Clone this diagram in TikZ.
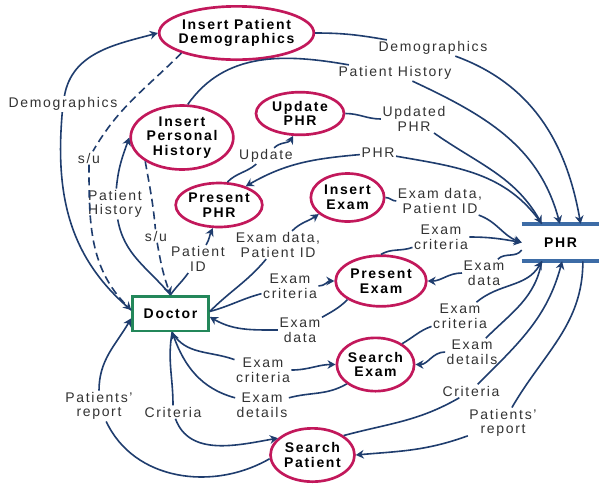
\documentclass[tikz,border=0pt]{standalone}
\usepackage{fontspec}
\setmainfont{Liberation Sans}[LetterSpace=12]
\usetikzlibrary{shapes.geometric,arrows.meta}
\definecolor{rose}{HTML}{C2185B}
\definecolor{fleche}{HTML}{1F3D6E}
\definecolor{vert}{HTML}{23875A}
\definecolor{bande}{HTML}{3D6CA6}
\definecolor{texte}{HTML}{333333}

\begin{document}
\begin{tikzpicture}[x=0.75pt,y=0.75pt,font=\fontsize{10.5}{11}\selectfont]
\tikzstyle{flux}=[->,>={Stealth[length=6pt,width=6.5pt]},line width=1.2pt,draw=fleche]
\tikzset{processus/.style={ellipse,draw=rose,line width=2pt,inner sep=-12pt,align=center,font=\fontsize{10.5}{11}\selectfont\bfseries},
etiquette/.style={fill=white,inner sep=1pt,align=center,text=texte}}
\path[use as bounding box,fill=white] (0,0) rectangle (599,-483);

% processus
\node[processus,minimum width=116pt,minimum height=40pt] (ipd) at (236.5,-33) {Insert Patient\\Demographics};
\node[processus,minimum width=77pt,minimum height=48pt] (iph) at (182,-137.5) {Insert\\Personal\\History};
\node[processus,minimum width=66pt,minimum height=32pt] (uphr) at (300,-113.5) {Update\\PHR};
\node[processus,minimum width=65pt,minimum height=33pt] (pphr) at (219,-205) {Present\\PHR};
\node[processus,minimum width=55pt,minimum height=36pt] (iex) at (347.5,-197.5) {Insert\\Exam};
\node[processus,minimum width=68pt,minimum height=38pt] (pex) at (381,-281) {Present\\Exam};
\node[processus,minimum width=58pt,minimum height=40pt] (sex) at (375.5,-364.5) {Search\\Exam};
\node[processus,minimum width=63pt,minimum height=40pt] (spat) at (312.5,-455) {Search\\Patient};
\node[draw=vert,line width=2pt,minimum width=57pt,minimum height=26pt,font=\fontsize{10.5}{11}\selectfont\bfseries] (doc) at (170.5,-313.5) {Doctor};
\node[minimum width=57.75pt,minimum height=27.75pt,inner sep=0pt,font=\fontsize{10.5}{11}\selectfont\bfseries] (phr) at (560.5,-242.5) {PHR};
\draw[bande,line width=3pt] (phr.north west) -- (phr.north east);
\draw[bande,line width=3pt] (phr.south west) -- (phr.south east);

% etiquettes
\node[etiquette] (lblDemoL) at (63,-104) {Demographics};
\node[etiquette] (lblDemoR) at (433,-48) {Demographics};
\node[etiquette] (lblSuA) at (89,-158) {s/u};
\node[etiquette] (lblSuB) at (156,-236) {s/u};
\node[etiquette] (lblHistL) at (115,-204) {Patient\\History};
\node[etiquette] (lblHistR) at (395,-73) {Patient History};
\node[etiquette] (lblPid) at (198,-259) {Patient\\ID};
\node[etiquette] (lblUpd) at (266,-156) {Update};
\node[etiquette] (lblUpdPhr) at (414,-119) {Updated\\PHR};
\node[etiquette] (lblPhr) at (378,-153) {PHR};
\node[etiquette] (lblSaisieA) at (278,-245) {Exam data,\\Patient ID};
\node[etiquette] (lblSaisieB) at (440,-201) {Exam data,\\Patient ID};
\node[etiquette] (lblCritA) at (290,-286) {Exam\\criteria};
\node[etiquette] (lblCritB) at (441,-237) {Exam\\criteria};
\node[etiquette] (lblDataA) at (484,-273) {Exam\\data};
\node[etiquette] (lblDataB) at (300,-330) {Exam\\data};
\node[etiquette] (lblCritC) at (263,-370) {Exam\\criteria};
\node[etiquette] (lblCritD) at (460,-316) {Exam\\criteria};
\node[etiquette] (lblDetA) at (472,-352) {Exam\\details};
\node[etiquette] (lblDetB) at (262,-405) {Exam\\details};
\node[etiquette] (lblCritE) at (173,-412) {Criteria};
\node[etiquette] (lblCritF) at (471,-391) {Criteria};
\node[etiquette] (lblRepA) at (503,-423) {Patients'\\report};
\node[etiquette] (lblRepB) at (99,-406) {Patients'\\report};

% demographics
\draw[flux] (doc.175) to[out=140,in=-95] (lblDemoL) to[out=80,in=195] (ipd.west);
\draw[flux] (ipd.east) to[out=0,in=170] (lblDemoR) to[out=-20,in=100] (phr.43);
\draw[flux,dash pattern=on 6pt off 3.5pt] (ipd.200) to[out=225,in=60] (lblSuA) to[out=-90,in=135] (doc.175);
% history
\draw[flux] (doc.90) to[out=130,in=-80] (lblHistL) to[out=85,in=-110] (iph.west);
\draw[flux] (iph.80) to[out=55,in=170] (lblHistR) to[out=-25,in=105] (phr.92);
\draw[flux,dash pattern=on 6pt off 3.5pt] (iph.213) to[out=-80,in=95] (lblSuB) to[out=-80,in=110] (doc.90);
% PHR
\draw[flux] (doc.90) to[out=55,in=-125] (lblPid) to[out=60,in=-115] (pphr.255);
\draw[flux] (pphr.70) to[out=45,in=-140] (lblUpd) to[out=45,in=-120] (uphr.253);
\draw[flux] (uphr.east) to[out=0,in=180] (lblUpdPhr) to[out=-35,in=120] (phr.135);
\draw[flux] (phr.135) to[out=125,in=-10] (lblPhr) to[out=185,in=30] (pphr.35);
% exams
\draw[flux] (doc.3) to[out=45,in=-130] (lblSaisieA) to[out=45,in=-145] (iex.210);
\draw[flux] (iex.east) to[out=0,in=180] (lblSaisieB) to[out=-20,in=160] (phr.west);
\draw[flux] (doc.3) to[out=15,in=195] (lblCritA) to[out=0,in=180] (pex.west);
\draw[flux] (pex.north) to[out=30,in=200] (lblCritB) to[out=0,in=170] (phr.west);
\draw[flux] (phr.191) to[out=235,in=45] (lblDataA) to[out=180,in=0] (pex.east);
\draw[flux] (pex.209) to[out=225,in=30] (lblDataB) to[out=180,in=-30] (doc.355);
\draw[flux] (doc.275) to[out=-60,in=160] (lblCritC) to[out=0,in=180] (sex.west);
\draw[flux] (sex.38) to[out=30,in=200] (lblCritD) to[out=40,in=240] (phr.225);
\draw[flux] (phr.225) to[out=260,in=45] (lblDetA) to[out=180,in=0] (sex.east);
\draw[flux] (sex.214) to[out=210,in=15] (lblDetB) to[out=165,in=-70] (doc.275);
% patients
\draw[flux] (doc.275) to[out=-100,in=90] (lblCritE) to[out=-70,in=190] (spat.154);
\draw[flux] (spat.32) to[out=15,in=210] (lblCritF) to[out=45,in=255] (phr.275);
\draw[flux] (phr.320) to[out=-90,in=60] (lblRepA) to[out=200,in=5] (spat.east);
\draw[flux] (spat.185) to[out=210,in=-65] (lblRepB) to[out=90,in=240] (doc.187);
\end{tikzpicture}
\end{document}
